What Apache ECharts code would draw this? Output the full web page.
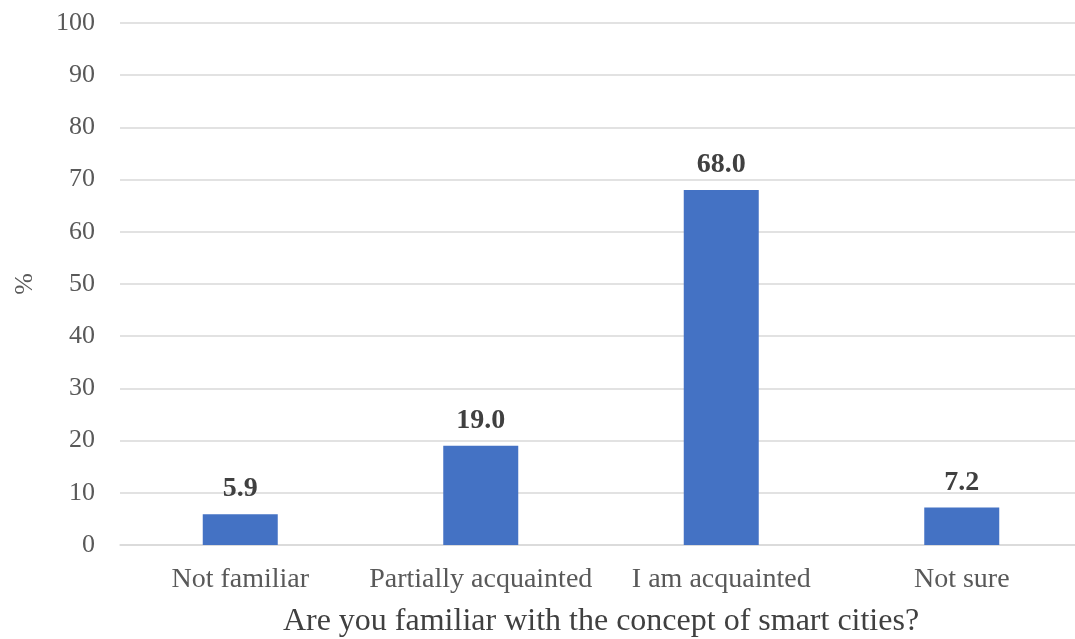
<!DOCTYPE html>
<html>
<head>
<meta charset="utf-8">
<script src="https://cdn.jsdelivr.net/npm/echarts@6/dist/echarts.min.js"></script>
<style>
  html, body { margin: 0; padding: 0; background: #fff; }
  #chart { width: 1075px; height: 639px; }
</style>
</head>
<body>
<div id="chart"></div>
<script>
// data
var categories = ["Not familiar", "Partially acquainted", "I am acquainted", "Not sure"];
var percents = [5.9, 19.0, 68.0, 7.2];

var chart = echarts.init(document.getElementById('chart'));
var serif = '"Liberation Serif", "Times New Roman", serif';

var option = {
    animation: false,
    grid: {
        left: 120,
        top: 23,
        width: 962,
        height: 522,
        outerBoundsMode: 'none'
    },
    xAxis: {
        type: 'category',
        data: categories,
        name: 'Are you familiar with the concept of smart cities?',
        nameLocation: 'middle',
        nameGap: 61,
        nameTextStyle: { fontFamily: serif, fontSize: 32, color: '#404040' },
        axisLine: { lineStyle: { color: '#d9d9d9', width: 1.5 } },
        axisTick: { show: false },
        axisLabel: {
            interval: 0,
            hideOverlap: false,
            fontFamily: serif,
            fontSize: 28,
            color: '#595959',
            margin: 21
        }
    },
    yAxis: {
        type: 'value',
        min: 0,
        max: 100,
        interval: 10,
        name: '%',
        nameLocation: 'middle',
        nameGap: 82,
        nameRotate: 90,
        nameTextStyle: { fontFamily: serif, fontSize: 26, color: '#595959' },
        axisLine: { show: false },
        axisTick: { show: false },
        axisLabel: { fontFamily: serif, fontSize: 26, color: '#595959', margin: 25 },
        splitLine: { lineStyle: { color: '#d9d9d9', width: 1.5 } }
    },
    series: [{
        type: 'bar',
        data: percents,
        barWidth: 75,
        itemStyle: { color: '#4472c4' },
        label: {
            show: true,
            position: 'top',
            distance: 11,
            formatter: function (p) { return p.value.toFixed(1); },
            fontFamily: serif,
            fontSize: 28,
            fontWeight: 'bold',
            color: '#404040'
        }
    }]
};
chart.setOption(option);
</script>
</body>
</html>
